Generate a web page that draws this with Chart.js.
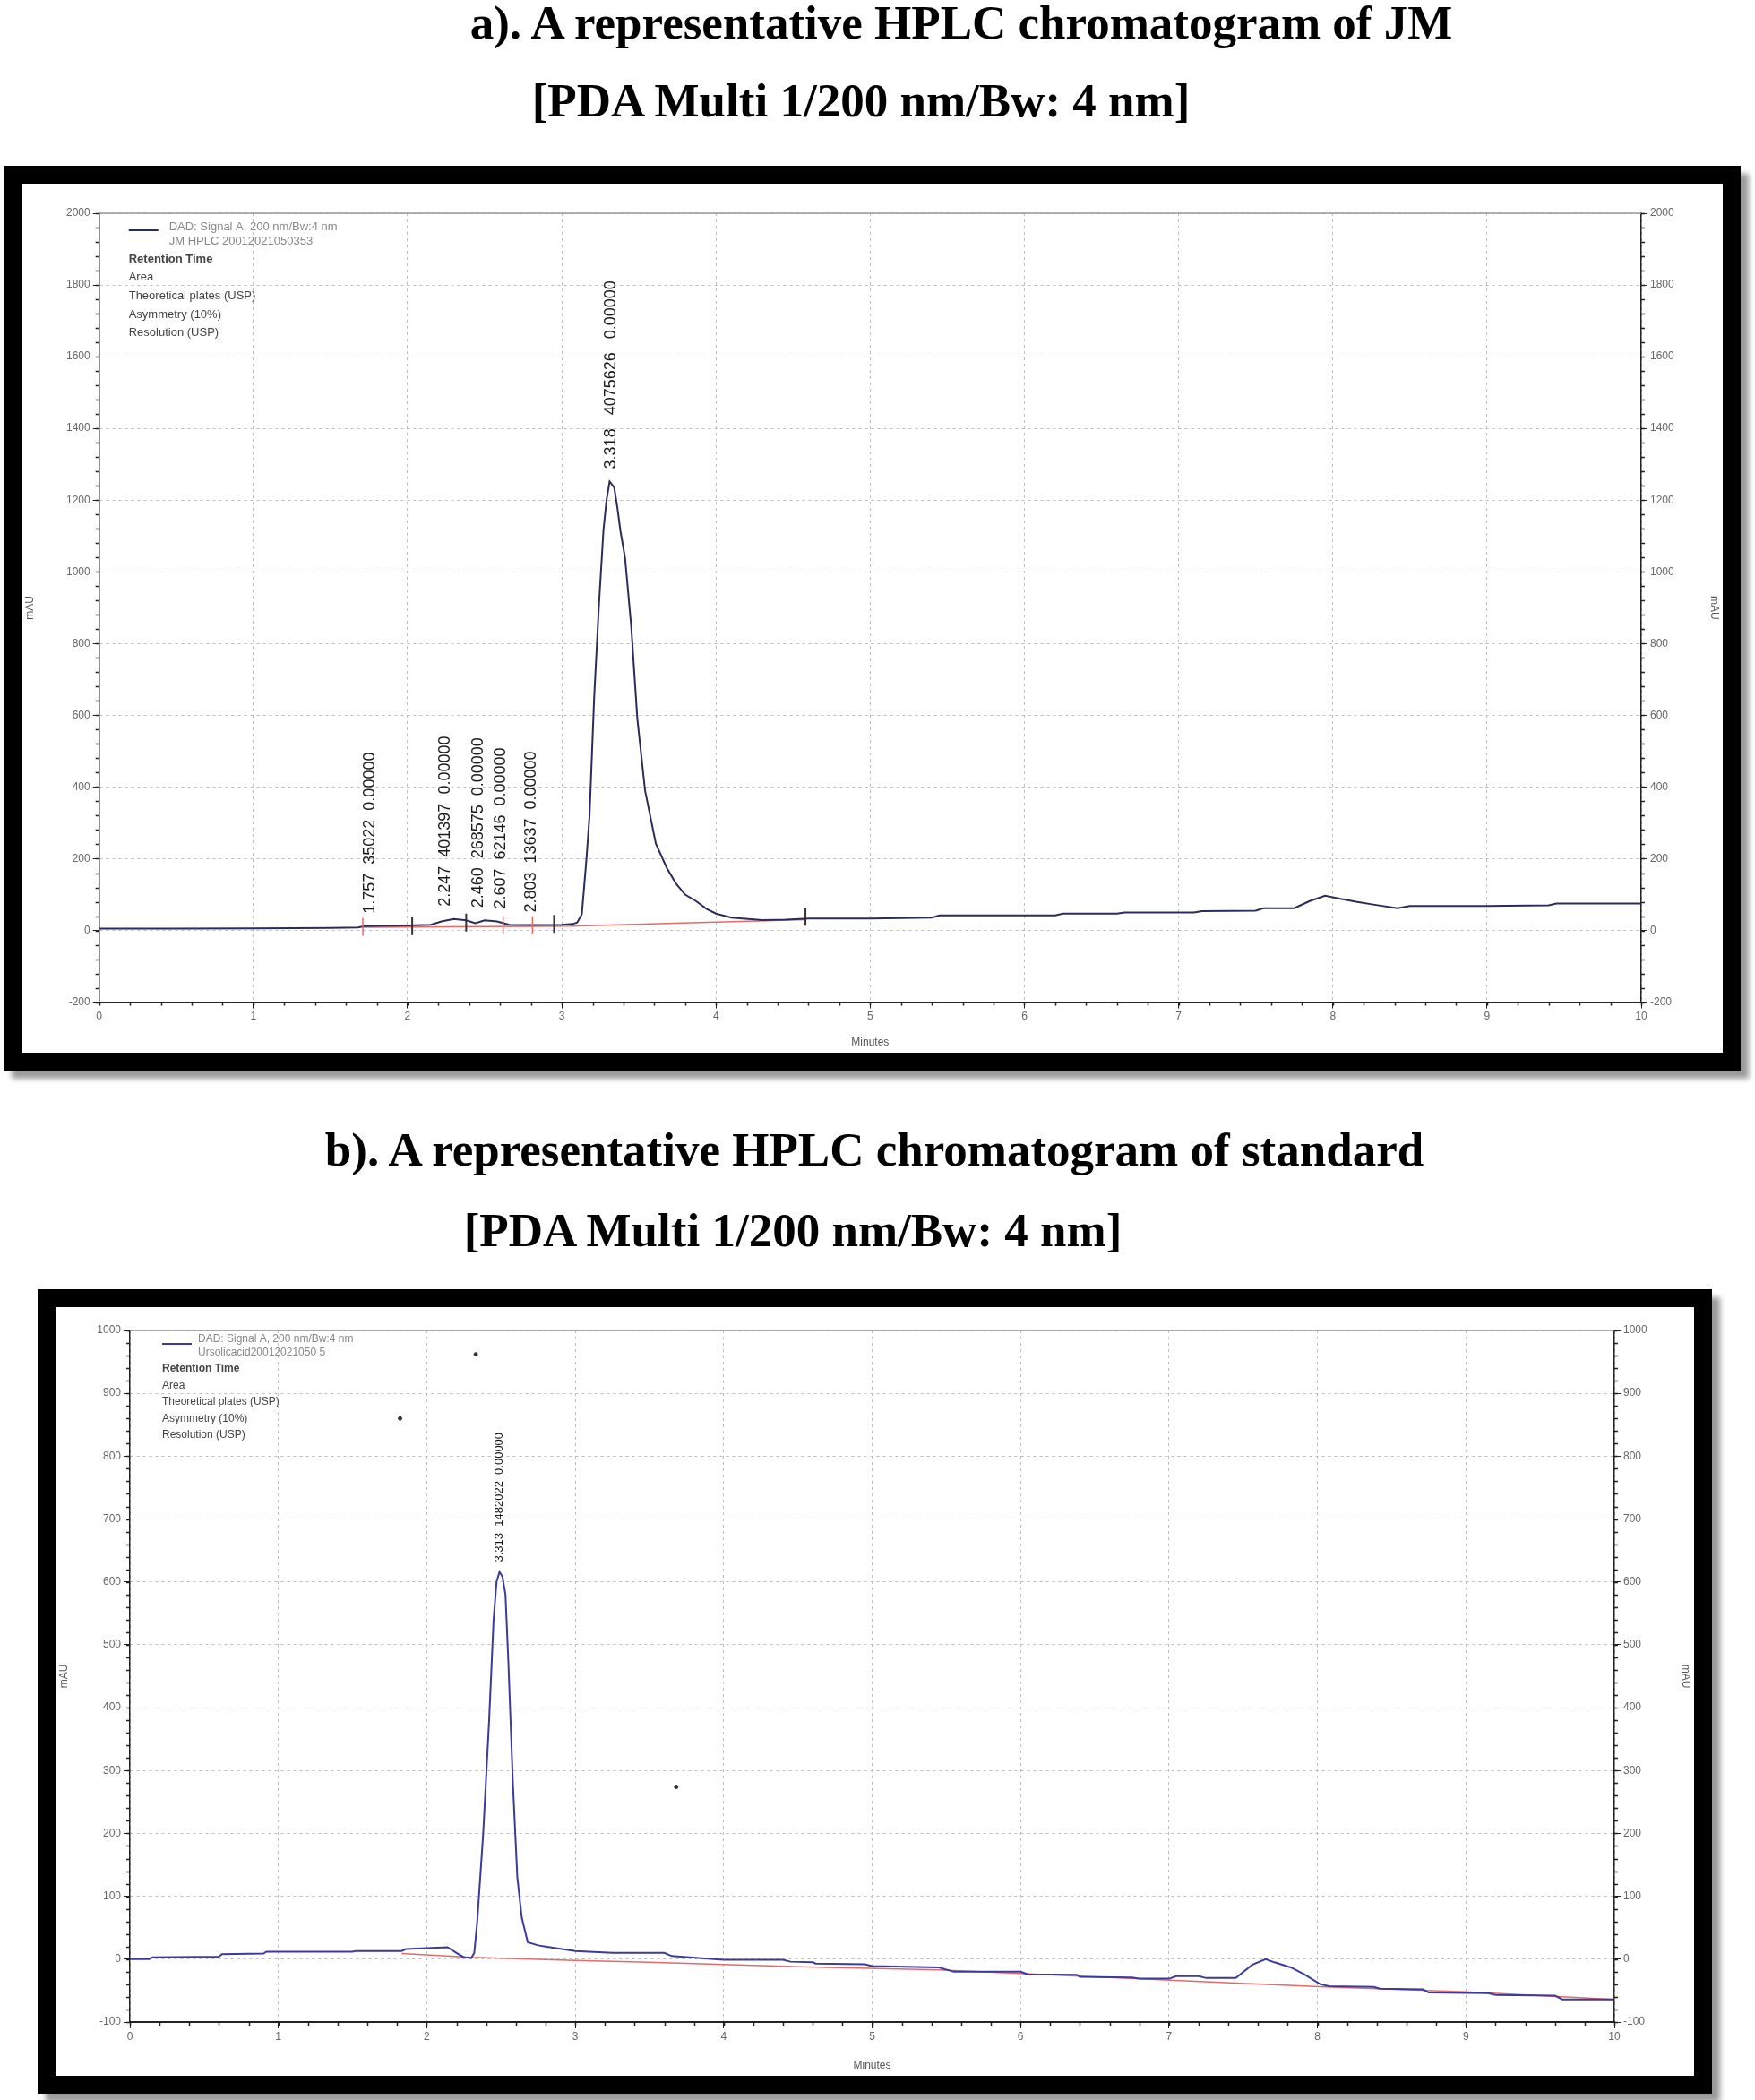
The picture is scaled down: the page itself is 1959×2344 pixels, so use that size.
<!DOCTYPE html>
<html>
<head>
<meta charset="utf-8">
<script src="https://cdn.jsdelivr.net/npm/chart.js@4.4.1/dist/chart.umd.min.js"></script>
<style>
body{margin:0;width:1959px;height:2344px;background:#fff;position:relative;overflow:hidden;}
.ttl{position:absolute;transform:translate(-50%,-50%);font-family:"Liberation Serif",serif;font-weight:bold;font-size:53px;white-space:nowrap;color:#000;}
.frame{position:absolute;border:20px solid #000;box-shadow:9px 9px 6px #9a9a9a;background:#fff;}
.frame canvas{position:absolute;left:0;top:0;}
</style>
</head>
<body>
<div class="ttl" style="left:1073px;top:25px">a). A representative HPLC chromatogram of JM</div>
<div class="ttl" style="left:961px;top:112px">[PDA Multi 1/200 nm/Bw: 4 nm]</div>
<div class="frame" style="left:4px;top:185px;width:1899px;height:970px"><canvas id="chartA" width="1899" height="970"></canvas></div>

<div class="ttl" style="left:976px;top:1283px">b). A representative HPLC chromatogram of standard</div>
<div class="ttl" style="left:885px;top:1373px">[PDA Multi 1/200 nm/Bw: 4 nm]</div>
<div class="frame" style="left:42px;top:1439px;width:1829px;height:858px"><canvas id="chartB" width="1829" height="858"></canvas></div>

<script>
// a) JM sample, [minutes, mAU]
const jmTrace = [[0,5],[0.5,5],[1.0,6],[1.5,7],[1.68,8],[1.72,12],[2.0,14],[2.15,16],[2.22,25],[2.3,32],
  [2.38,28],[2.44,20],[2.5,28],[2.58,25],[2.66,16],[2.8,15],[3.0,16],[3.07,18],[3.1,22],[3.13,45],
  [3.16,200],[3.18,320],[3.21,650],[3.24,900],[3.27,1115],[3.29,1200],[3.31,1252],[3.34,1235],[3.36,1180],
  [3.38,1115],[3.41,1040],[3.45,850],[3.49,590],[3.54,390],[3.61,242],[3.68,175],[3.74,131],[3.8,100],
  [3.87,82],[3.94,60],[4.0,47],[4.1,36],[4.3,29],[4.45,30],[4.6,33],[5.0,33],[5.4,36],[5.45,42],[6.2,42],
  [6.25,47],[6.6,47],[6.65,50],[7.1,50],[7.15,54],[7.5,55],[7.55,62],[7.75,62],[7.85,82],[7.95,97],[8.05,88],
  [8.15,80],[8.28,71],[8.42,62],[8.5,68],[9.0,68],[9.4,70],[9.45,75],[10,75]];
const jmBaseline = [[1.71,9],[3.05,12],[4.58,30]];
const jmMarksDark = [[2.03,12],[2.38,22],[2.95,18],[4.58,38]];
const jmMarksRed = [[1.71,10],[2.62,16],[2.81,15]];
const jmPeakTimes = [1.757, 2.247, 2.460, 2.607, 2.803, 3.318];
const jmPeakText = ['1.757  35022  0.00000', '2.247  401397  0.00000', '2.460  268575  0.00000',
  '2.607  62146  0.00000', '2.803  13637  0.00000', '3.318   4075626   0.00000'];
const jmLegend = ['DAD: Signal A, 200 nm/Bw:4 nm', 'JM HPLC 20012021050353'];

// b) standard, [minutes, mAU]
const stdTrace = [[0,0],[0.13,0],[0.15,3],[0.6,4],[0.62,8],[0.9,9],[0.92,12],[1.5,12],[1.52,13],[1.83,13],
  [1.86,16],[2.14,19],[2.2,10],[2.25,3],[2.3,2],[2.32,10],[2.34,60],[2.38,200],[2.42,380],[2.45,540],
  [2.47,600],[2.49,616],[2.51,608],[2.53,580],[2.55,470],[2.58,280],[2.61,130],[2.64,66],[2.68,27],
  [2.75,22],[2.8,20],[3.0,13],[3.25,10],[3.6,10],[3.65,5],[3.83,2],[4.0,-1],[4.4,-1],[4.45,-4],[4.6,-5],
  [4.62,-7],[4.95,-8],[5.0,-11],[5.45,-13],[5.55,-20],[6.0,-20],[6.05,-24],[6.38,-25],[6.4,-28],[6.75,-29],
  [6.8,-31],[7.0,-31],[7.05,-27],[7.2,-27],[7.25,-30],[7.45,-30],[7.56,-9],[7.65,0],[7.71,-5],[7.82,-13],
  [7.91,-24],[8.02,-40],[8.08,-43],[8.38,-44],[8.42,-47],[8.71,-48],[8.75,-53],[9.15,-54],[9.2,-57],
  [9.6,-58],[9.65,-64],[10,-64]];
const stdBaseline = [[1.83,9],[2.3,3],[3.0,-2],[3.5,-5],[4.5,-12],[5.45,-17],[6.5,-28],[7.45,-38],[8.05,-44],[9,-52],[10,-64]];
const stdMarksDark = [[10,-56]];
const stdSpecks = [[1.82,860],[2.33,962],[3.68,274]];
const stdPeakTimes = [2.49];
const stdPeakText = ['3.313  1482022  0.00000'];
const stdLegend = ['DAD: Signal A, 200 nm/Bw:4 nm', 'Ursolicacid20012021050 5'];

const legendRows = ['Retention Time', 'Area', 'Theoretical plates (USP)', 'Asymmetry (10%)', 'Resolution (USP)'];

const toXY = arr => arr.map(p => ({x: p[0], y: p[1]}));
const decorSettings = {};

const decor = {
  id: 'decor',
  afterDraw(chart) {
    const c = decorSettings[chart.canvas.id];
    if (!c) return;
    const ctx = chart.ctx, a = chart.chartArea;
    const sx = chart.scales.x, sy = chart.scales.y;
    ctx.save();
    // top frame line
    ctx.strokeStyle = '#999'; ctx.lineWidth = 1.5;
    ctx.beginPath(); ctx.moveTo(a.left, a.top); ctx.lineTo(a.right, a.top); ctx.stroke();
    // minor ticks
    ctx.strokeStyle = '#222'; ctx.lineWidth = 1.5;
    ctx.beginPath();
    for (let v = sy.min; v <= sy.max + 1e-6; v += c.minorY) {
      const py = Math.round(sy.getPixelForValue(v)) + 0.5;
      ctx.moveTo(a.left - 4, py); ctx.lineTo(a.left, py);
      ctx.moveTo(a.right, py); ctx.lineTo(a.right + 4, py);
    }
    for (let v = 0; v <= 10 + 1e-6; v += 0.2) {
      const px = Math.round(sx.getPixelForValue(v)) + 0.5;
      ctx.moveTo(px, a.bottom); ctx.lineTo(px, a.bottom + 4);
    }
    ctx.stroke();
    // legend block
    const lx = a.left, ly = a.top, L = c.leg;
    ctx.strokeStyle = c.color; ctx.lineWidth = 2;
    ctx.beginPath(); ctx.moveTo(lx + L.sx, ly + L.sy); ctx.lineTo(lx + L.sx + 33, ly + L.sy); ctx.stroke();
    ctx.fillStyle = '#888'; ctx.font = L.font + 'px "Liberation Sans", Arial, sans-serif';
    ctx.textBaseline = 'middle'; ctx.textAlign = 'left';
    c.head.forEach((t, i) => ctx.fillText(t, lx + L.tx, ly + L.ty + i * L.gap * 0.8));
    ctx.fillStyle = '#444';
    legendRows.forEach((t, i) => {
      ctx.font = (i === 0 ? 'bold ' : '') + L.font + 'px "Liberation Sans", Arial, sans-serif';
      ctx.fillText(t, lx + L.sx, ly + L.ry + i * L.gap);
    });
    // peak annotations, rotated
    ctx.fillStyle = '#1a1a1a';
    ctx.font = c.peakFont + 'px "Liberation Sans", Arial, sans-serif';
    ctx.textBaseline = 'middle'; ctx.textAlign = 'left';
    c.peaks.forEach((rt, i) => {
      let top = -Infinity;
      c.trace.forEach(p => { if (Math.abs(p[0] - rt) < 0.06) top = Math.max(top, p[1]); });
      const px = sx.getPixelForValue(rt), py = sy.getPixelForValue(top) - c.peakGap;
      ctx.save(); ctx.translate(px, py); ctx.rotate(-Math.PI / 2);
      ctx.fillText(c.peakText[i], 0, 0); ctx.restore();
    });
    ctx.restore();
  }
};

function makeChart(id, o) {
  const tickFont = {family: '"Liberation Sans", Arial, sans-serif', size: 12};
  const plain = v => String(v);
  const axisY = (pos, w, grid) => ({
    position: pos, min: o.min, max: o.max,
    ticks: {stepSize: o.step, color: '#666', font: tickFont, padding: 3, callback: plain},
    grid: {display: true, drawOnChartArea: grid, color: '#bdbdbd', tickColor: '#222', tickLength: 7},
    border: {display: true, color: '#222', width: 1.5, dash: [3, 4]},
    title: {display: true, text: 'mAU', color: '#555', font: tickFont, padding: 2},
    afterFit: s => { s.width = w; }
  });
  const datasets = [
    {data: toXY(o.trace), showLine: true, borderColor: o.color, borderWidth: 2, pointRadius: 0, order: 1},
    {data: toXY(o.base), showLine: true, borderColor: '#e36a6a', borderWidth: 1.5, pointRadius: 0, order: 2},
    {data: toXY(o.marksDark), showLine: false, pointStyle: 'line', pointRotation: 90, pointRadius: 10,
      pointBorderColor: '#333', pointBorderWidth: 2, order: 0},
    {data: toXY(o.marksRed || []), showLine: false, pointStyle: 'line', pointRotation: 90, pointRadius: 10,
      pointBorderColor: '#e36a6a', pointBorderWidth: 1.5, order: 0},
    {data: toXY(o.specks || []), showLine: false, pointRadius: 2, pointBackgroundColor: '#333',
      pointBorderColor: '#333', order: 0}
  ];
  decorSettings[id] = {color: o.color, minorY: o.minorY, leg: o.leg, head: o.head, peaks: o.peaks,
    peakText: o.peakText, peakFont: o.peakFont, peakGap: o.peakGap, trace: o.trace};
  return new Chart(document.getElementById(id), {
    type: 'scatter',
    data: {datasets},
    options: {
      responsive: false, animation: false, devicePixelRatio: 1,
      layout: {padding: {top: o.padTop, left: 0, right: 0, bottom: 0}},
      elements: {line: {tension: 0}},
      plugins: {legend: {display: false}, tooltip: {enabled: false}},
      scales: {
        x: {
          type: 'linear', min: 0, max: 10,
          ticks: {stepSize: 1, color: '#666', font: tickFont, padding: 2, callback: plain},
          grid: {color: '#bdbdbd', tickColor: '#222', tickLength: 7},
          border: {display: true, color: '#222', width: 2, dash: [3, 4]},
          title: {display: true, text: 'Minutes', color: '#555', font: tickFont, padding: {top: 0, bottom: 4}},
          afterFit: s => { s.height = o.bottom; }
        },
        y: axisY('left', o.left, true),
        y2: axisY('right', o.right, false)
      }
    },
    plugins: [decor]
  });
}

makeChart('chartA', {
  trace: jmTrace, base: jmBaseline, marksDark: jmMarksDark, marksRed: jmMarksRed,
  color: '#2c2c58', min: -200, max: 2000, step: 200, minorY: 40,
  padTop: 33, left: 86.7, right: 91, bottom: 56.4,
  head: jmLegend, leg: {sx: 33, sy: 19, tx: 78, ty: 15, ry: 51, gap: 20.7, font: 13},
  peaks: jmPeakTimes, peakText: jmPeakText, peakFont: 18, peakGap: 14
});

makeChart('chartB', {
  trace: stdTrace, base: stdBaseline, marksDark: stdMarksDark, specks: stdSpecks,
  color: '#3b3b9c', min: -100, max: 1000, step: 100, minorY: 20,
  padTop: 26, left: 83, right: 89, bottom: 60,
  head: stdLegend, leg: {sx: 36, sy: 15, tx: 76, ty: 10, ry: 43, gap: 18.5, font: 12},
  peaks: stdPeakTimes, peakText: stdPeakText, peakFont: 13, peakGap: 11
});
</script>
</body>
</html>
